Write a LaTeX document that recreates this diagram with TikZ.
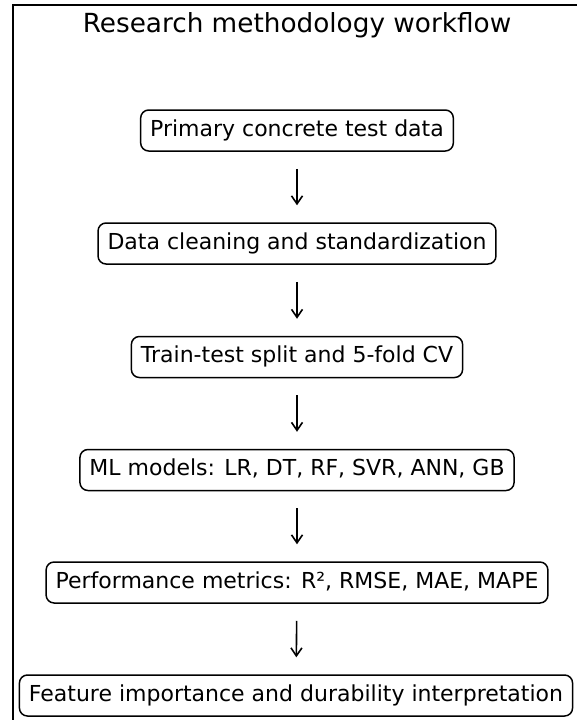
\documentclass[tikz,border=0pt]{standalone}
\usepackage{fontspec}
\setmainfont{DejaVu Sans}
\usetikzlibrary{arrows.meta}
\tikzset{
  stepbox/.style={draw=black, line width=1.5pt, rounded corners=8pt, fill=white,
    font=\fontsize{22}{26}\selectfont, inner xsep=9.5pt, minimum height=41pt,
    text height=16pt, text depth=5pt, anchor=center},
  flowarrow/.style={draw=black, line width=1.6pt,
    -{Straight Barb[length=8pt,width=11pt,line width=1.6pt]},
    shorten <=17pt, shorten >=17pt},
  frameline/.style={draw=black, line width=2pt}
}
\begin{document}
\begin{tikzpicture}[x=1pt,y=-1pt]
  \useasboundingbox (0,0) rectangle (576,720);
  % outer frame (left and top edges)
  \coordinate (fbl) at (13,721);
  \coordinate (ftl) at (13,5);
  \coordinate (ftr) at (577,5);
  \draw[frameline] (fbl) -- (ftl) -- (ftr);
  % title
  \node[anchor=base, font=\fontsize{26.3}{30}\selectfont, inner sep=0pt] (title) at (297,32) {Research methodology workflow};
  % workflow steps
  \node[stepbox] (s1) at (297,130.5) {Primary concrete test data};
  \node[stepbox] (s2) at (297,243.5) {Data cleaning and standardization};
  \node[stepbox] (s3) at (297,357) {Train-test split and 5-fold CV};
  \node[stepbox] (s4) at (297,470) {ML models: LR, DT, RF, SVR, ANN, GB};
  \node[stepbox] (s5) at (297,582.5) {Performance metrics: R², RMSE, MAE, MAPE};
  \node[stepbox] (s6) at (296,695.5) {Feature importance and durability interpretation};
  % connectors
  \draw[flowarrow] (s1) -- (s2);
  \draw[flowarrow] (s2) -- (s3);
  \draw[flowarrow] (s3) -- (s4);
  \draw[flowarrow] (s4) -- (s5);
  \draw[flowarrow] (s5) -- (s6);
\end{tikzpicture}
\end{document}
